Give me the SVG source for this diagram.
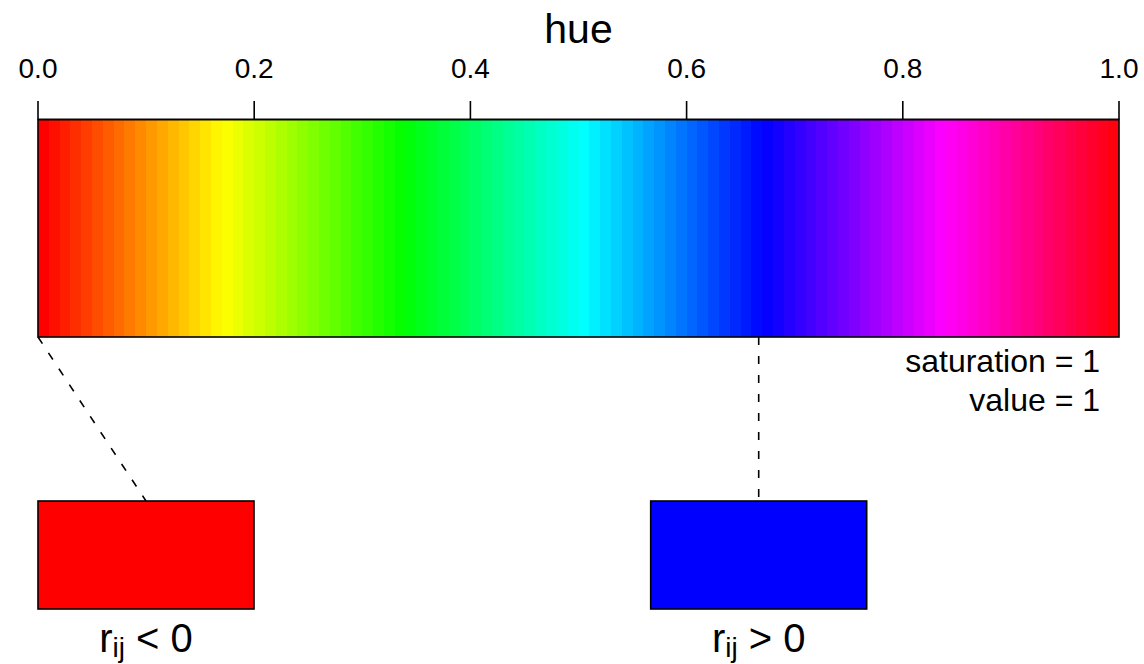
<svg xmlns="http://www.w3.org/2000/svg" width="1144" height="664" viewBox="0 0 1144 664">
<style>
text{font-family:"Liberation Sans",Arial,sans-serif;fill:#000}
.tick{font-size:28px;text-anchor:middle}
.s{y:120px;height:217px;width:11.2px;shape-rendering:crispEdges}
.outline{fill:none;stroke:#000;stroke-width:1.6}
.dash{fill:none;stroke:#000;stroke-width:1.6;stroke-dasharray:8 11}
.lbl{font-size:40px;text-anchor:middle}
.note{font-size:32px;text-anchor:end}
</style>
<rect width="1144" height="664" fill="#fff"/>
<g id="huebar">
<g id="strips">
<rect class="s" x="38" y="120" height="217" width="11.2" fill="#FF0000"/>
<rect class="s" x="48.81" y="120" height="217" width="11.2" fill="#FF0F00"/>
<rect class="s" x="59.62" y="120" height="217" width="11.2" fill="#FF1F00"/>
<rect class="s" x="70.43" y="120" height="217" width="11.2" fill="#FF2E00"/>
<rect class="s" x="81.24" y="120" height="217" width="11.2" fill="#FF3D00"/>
<rect class="s" x="92.05" y="120" height="217" width="11.2" fill="#FF4D00"/>
<rect class="s" x="102.86" y="120" height="217" width="11.2" fill="#FF5C00"/>
<rect class="s" x="113.67" y="120" height="217" width="11.2" fill="#FF6B00"/>
<rect class="s" x="124.48" y="120" height="217" width="11.2" fill="#FF7A00"/>
<rect class="s" x="135.29" y="120" height="217" width="11.2" fill="#FF8A00"/>
<rect class="s" x="146.1" y="120" height="217" width="11.2" fill="#FF9900"/>
<rect class="s" x="156.91" y="120" height="217" width="11.2" fill="#FFA800"/>
<rect class="s" x="167.72" y="120" height="217" width="11.2" fill="#FFB800"/>
<rect class="s" x="178.53" y="120" height="217" width="11.2" fill="#FFC700"/>
<rect class="s" x="189.34" y="120" height="217" width="11.2" fill="#FFD600"/>
<rect class="s" x="200.15" y="120" height="217" width="11.2" fill="#FFE500"/>
<rect class="s" x="210.96" y="120" height="217" width="11.2" fill="#FFF500"/>
<rect class="s" x="221.77" y="120" height="217" width="11.2" fill="#FAFF00"/>
<rect class="s" x="232.58" y="120" height="217" width="11.2" fill="#EBFF00"/>
<rect class="s" x="243.39" y="120" height="217" width="11.2" fill="#DBFF00"/>
<rect class="s" x="254.2" y="120" height="217" width="11.2" fill="#CCFF00"/>
<rect class="s" x="265.01" y="120" height="217" width="11.2" fill="#BDFF00"/>
<rect class="s" x="275.82" y="120" height="217" width="11.2" fill="#ADFF00"/>
<rect class="s" x="286.63" y="120" height="217" width="11.2" fill="#9EFF00"/>
<rect class="s" x="297.44" y="120" height="217" width="11.2" fill="#8FFF00"/>
<rect class="s" x="308.25" y="120" height="217" width="11.2" fill="#80FF00"/>
<rect class="s" x="319.06" y="120" height="217" width="11.2" fill="#70FF00"/>
<rect class="s" x="329.87" y="120" height="217" width="11.2" fill="#61FF00"/>
<rect class="s" x="340.68" y="120" height="217" width="11.2" fill="#52FF00"/>
<rect class="s" x="351.49" y="120" height="217" width="11.2" fill="#42FF00"/>
<rect class="s" x="362.3" y="120" height="217" width="11.2" fill="#33FF00"/>
<rect class="s" x="373.11" y="120" height="217" width="11.2" fill="#24FF00"/>
<rect class="s" x="383.92" y="120" height="217" width="11.2" fill="#14FF00"/>
<rect class="s" x="394.73" y="120" height="217" width="11.2" fill="#05FF00"/>
<rect class="s" x="405.54" y="120" height="217" width="11.2" fill="#00FF0A"/>
<rect class="s" x="416.35" y="120" height="217" width="11.2" fill="#00FF1A"/>
<rect class="s" x="427.16" y="120" height="217" width="11.2" fill="#00FF29"/>
<rect class="s" x="437.97" y="120" height="217" width="11.2" fill="#00FF38"/>
<rect class="s" x="448.78" y="120" height="217" width="11.2" fill="#00FF47"/>
<rect class="s" x="459.59" y="120" height="217" width="11.2" fill="#00FF57"/>
<rect class="s" x="470.4" y="120" height="217" width="11.2" fill="#00FF66"/>
<rect class="s" x="481.21" y="120" height="217" width="11.2" fill="#00FF75"/>
<rect class="s" x="492.02" y="120" height="217" width="11.2" fill="#00FF85"/>
<rect class="s" x="502.83" y="120" height="217" width="11.2" fill="#00FF94"/>
<rect class="s" x="513.64" y="120" height="217" width="11.2" fill="#00FFA3"/>
<rect class="s" x="524.45" y="120" height="217" width="11.2" fill="#00FFB3"/>
<rect class="s" x="535.26" y="120" height="217" width="11.2" fill="#00FFC2"/>
<rect class="s" x="546.07" y="120" height="217" width="11.2" fill="#00FFD1"/>
<rect class="s" x="556.88" y="120" height="217" width="11.2" fill="#00FFE0"/>
<rect class="s" x="567.69" y="120" height="217" width="11.2" fill="#00FFF0"/>
<rect class="s" x="578.5" y="120" height="217" width="11.2" fill="#00FFFF"/>
<rect class="s" x="589.31" y="120" height="217" width="11.2" fill="#00F0FF"/>
<rect class="s" x="600.12" y="120" height="217" width="11.2" fill="#00E0FF"/>
<rect class="s" x="610.93" y="120" height="217" width="11.2" fill="#00D1FF"/>
<rect class="s" x="621.74" y="120" height="217" width="11.2" fill="#00C2FF"/>
<rect class="s" x="632.55" y="120" height="217" width="11.2" fill="#00B3FF"/>
<rect class="s" x="643.36" y="120" height="217" width="11.2" fill="#00A3FF"/>
<rect class="s" x="654.17" y="120" height="217" width="11.2" fill="#0094FF"/>
<rect class="s" x="664.98" y="120" height="217" width="11.2" fill="#0085FF"/>
<rect class="s" x="675.79" y="120" height="217" width="11.2" fill="#0075FF"/>
<rect class="s" x="686.6" y="120" height="217" width="11.2" fill="#0066FF"/>
<rect class="s" x="697.41" y="120" height="217" width="11.2" fill="#0057FF"/>
<rect class="s" x="708.22" y="120" height="217" width="11.2" fill="#0047FF"/>
<rect class="s" x="719.03" y="120" height="217" width="11.2" fill="#0038FF"/>
<rect class="s" x="729.84" y="120" height="217" width="11.2" fill="#0029FF"/>
<rect class="s" x="740.65" y="120" height="217" width="11.2" fill="#001AFF"/>
<rect class="s" x="751.46" y="120" height="217" width="11.2" fill="#000AFF"/>
<rect class="s" x="762.27" y="120" height="217" width="11.2" fill="#0500FF"/>
<rect class="s" x="773.08" y="120" height="217" width="11.2" fill="#1400FF"/>
<rect class="s" x="783.89" y="120" height="217" width="11.2" fill="#2400FF"/>
<rect class="s" x="794.7" y="120" height="217" width="11.2" fill="#3300FF"/>
<rect class="s" x="805.51" y="120" height="217" width="11.2" fill="#4200FF"/>
<rect class="s" x="816.32" y="120" height="217" width="11.2" fill="#5200FF"/>
<rect class="s" x="827.13" y="120" height="217" width="11.2" fill="#6100FF"/>
<rect class="s" x="837.94" y="120" height="217" width="11.2" fill="#7000FF"/>
<rect class="s" x="848.75" y="120" height="217" width="11.2" fill="#8000FF"/>
<rect class="s" x="859.56" y="120" height="217" width="11.2" fill="#8F00FF"/>
<rect class="s" x="870.37" y="120" height="217" width="11.2" fill="#9E00FF"/>
<rect class="s" x="881.18" y="120" height="217" width="11.2" fill="#AD00FF"/>
<rect class="s" x="891.99" y="120" height="217" width="11.2" fill="#BD00FF"/>
<rect class="s" x="902.8" y="120" height="217" width="11.2" fill="#CC00FF"/>
<rect class="s" x="913.61" y="120" height="217" width="11.2" fill="#DB00FF"/>
<rect class="s" x="924.42" y="120" height="217" width="11.2" fill="#EB00FF"/>
<rect class="s" x="935.23" y="120" height="217" width="11.2" fill="#FA00FF"/>
<rect class="s" x="946.04" y="120" height="217" width="11.2" fill="#FF00F5"/>
<rect class="s" x="956.85" y="120" height="217" width="11.2" fill="#FF00E6"/>
<rect class="s" x="967.66" y="120" height="217" width="11.2" fill="#FF00D6"/>
<rect class="s" x="978.47" y="120" height="217" width="11.2" fill="#FF00C7"/>
<rect class="s" x="989.28" y="120" height="217" width="11.2" fill="#FF00B8"/>
<rect class="s" x="1000.09" y="120" height="217" width="11.2" fill="#FF00A8"/>
<rect class="s" x="1010.9" y="120" height="217" width="11.2" fill="#FF0099"/>
<rect class="s" x="1021.71" y="120" height="217" width="11.2" fill="#FF008A"/>
<rect class="s" x="1032.52" y="120" height="217" width="11.2" fill="#FF007A"/>
<rect class="s" x="1043.33" y="120" height="217" width="11.2" fill="#FF006B"/>
<rect class="s" x="1054.14" y="120" height="217" width="11.2" fill="#FF005C"/>
<rect class="s" x="1064.95" y="120" height="217" width="11.2" fill="#FF004D"/>
<rect class="s" x="1075.76" y="120" height="217" width="11.2" fill="#FF003D"/>
<rect class="s" x="1086.57" y="120" height="217" width="11.2" fill="#FF002E"/>
<rect class="s" x="1097.38" y="120" height="217" width="11.2" fill="#FF001F"/>
<rect class="s" x="1108.19" y="120" height="217" width="10.81" fill="#FF000F" style="width:10.81px"/>
</g>
<rect class="outline" x="38" y="119.5" width="1081" height="217.5"/>
</g>
<g id="axis" stroke="#000" stroke-width="1.6">
<line x1="38" y1="119.5" x2="1119" y2="119.5"/>
<line x1="38" y1="101" x2="38" y2="119.5"/>
<line x1="254.2" y1="101" x2="254.2" y2="119.5"/>
<line x1="470.4" y1="101" x2="470.4" y2="119.5"/>
<line x1="686.6" y1="101" x2="686.6" y2="119.5"/>
<line x1="902.8" y1="101" x2="902.8" y2="119.5"/>
<line x1="1119" y1="101" x2="1119" y2="119.5"/>
</g>
<g id="axis-labels">
<text class="tick" x="38" y="78">0.0</text>
<text class="tick" x="254.2" y="78">0.2</text>
<text class="tick" x="470.4" y="78">0.4</text>
<text class="tick" x="686.6" y="78">0.6</text>
<text class="tick" x="902.8" y="78">0.8</text>
<text class="tick" x="1119" y="78">1.0</text>
<text x="578.5" y="43" font-size="41" text-anchor="middle">hue</text>
</g>
<g id="notes">
<text class="note" x="1100" y="372">saturation = 1</text>
<text class="note" x="1100" y="411">value = 1</text>
</g>
<g id="connectors">
<line class="dash" x1="38" y1="337" x2="146" y2="501"/>
<line class="dash" x1="758.7" y1="337" x2="758.7" y2="501"/>
</g>
<g id="neg">
<rect x="38" y="501" width="216" height="108" fill="#FF0000" stroke="#000" stroke-width="1.6"/>
<text class="lbl" x="146" y="652">r<tspan font-size="28" dy="5">ij</tspan><tspan dy="-5"> &lt; 0</tspan></text>
</g>
<g id="pos">
<rect x="650.7" y="501" width="216" height="108" fill="#0000FF" stroke="#000" stroke-width="1.6"/>
<text class="lbl" x="758.7" y="652">r<tspan font-size="28" dy="5">ij</tspan><tspan dy="-5"> &gt; 0</tspan></text>
</g>
</svg>
